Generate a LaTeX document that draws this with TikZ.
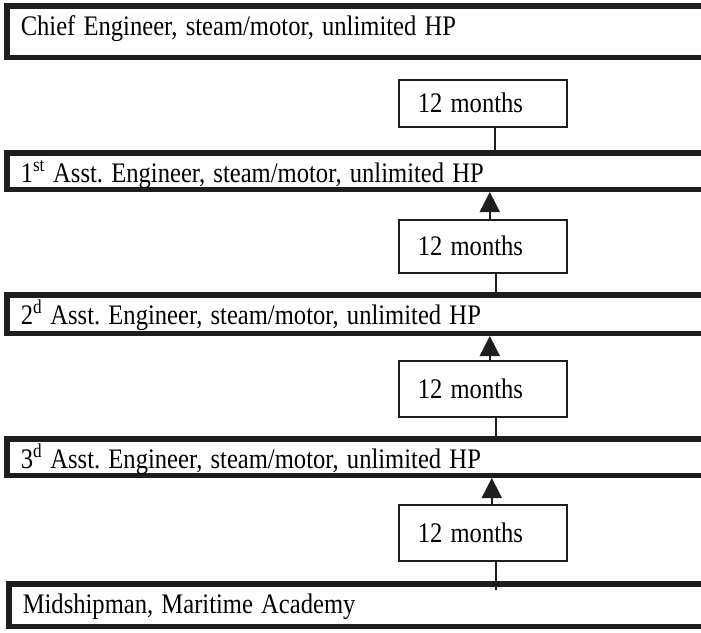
\documentclass[tikz,border=0pt]{standalone}
\usepackage{fontspec}
\usepackage{graphicx}
\setmainfont{Liberation Serif}
\frenchspacing
\usetikzlibrary{arrows.meta,positioning}
\definecolor{ink}{HTML}{1E1E1E}
\newcommand{\tall}[1]{\scalebox{1}[1.15]{#1}}
\tikzset{
  rank/.style  ={draw=ink,line width=5.5pt,anchor=north west,inner xsep=14pt,
                 inner ysep=0pt,text width=685pt,text height=29.25pt,text depth=#1,
                 font=\fontsize{24.6}{28}\selectfont},
  term/.style  ={draw=ink,line width=1.6pt,anchor=north west,inner xsep=19pt,
                 inner ysep=0pt,text width=130pt,minimum height=53pt,
                 text height=22pt,text depth=3pt,font=\fontsize{24.6}{28}\selectfont},
  link/.style  ={line width=1.8pt,ink},
  promo/.style ={link,-{Triangle[length=20pt,width=20pt]}},
}
\begin{document}
\begin{tikzpicture}[x=1pt,y=-1pt]
  \clip (0,0) rectangle (701,632);
  \node[rank=22.25pt] (chief)  at (4,3)   {\tall{Chief Engineer, steam/motor, unlimited HP}};
  \node[rank=7.25pt]  (first)  at (4,150) {\tall{1\textsuperscript{st} Asst. Engineer, steam/motor, unlimited HP}};
  \node[rank=9.25pt]  (second) at (4,292) {\tall{2\textsuperscript{d} Asst. Engineer, steam/motor, unlimited HP}};
  \node[rank=7.25pt]  (third)  at (4,436) {\tall{3\textsuperscript{d} Asst. Engineer, steam/motor, unlimited HP}};
  \node[rank=13.25pt] (mid)    at (6,581) {\tall{Midshipman, Maritime Academy}};

  \node[term,minimum height=47pt] (m1) at (398,79)  {\tall{12 months}};
  \node[term]                     (m2) at (398,219) {\tall{12 months}};
  \node[term,minimum height=56pt] (m3) at (398,360) {\tall{12 months}};
  \node[term,minimum height=56pt] (m4) at (398,504) {\tall{12 months}};

  \draw[link]  ([xshift=12pt]m1.south) -- ([xshift=12pt]m1.south |- first.north);
  \draw[promo] ([xshift=7pt]m2.north)  -- ([xshift=7pt]m2.north |- first.south);
  \draw[link]  ([xshift=13pt]m2.south) -- ([xshift=13pt]m2.south |- second.north);
  \draw[promo] ([xshift=7pt]m3.north)  -- ([xshift=7pt]m3.north |- second.south);
  \draw[link]  ([xshift=13pt]m3.south) -- ([xshift=13pt]m3.south |- third.north);
  \draw[promo] ([xshift=9pt]m4.north)  -- ([xshift=9pt]m4.north |- third.south);
  \draw[link]  ([xshift=13pt]m4.south) -- ([xshift=13pt,yshift=-9pt]m4.south |- mid.north);
\end{tikzpicture}
\end{document}
